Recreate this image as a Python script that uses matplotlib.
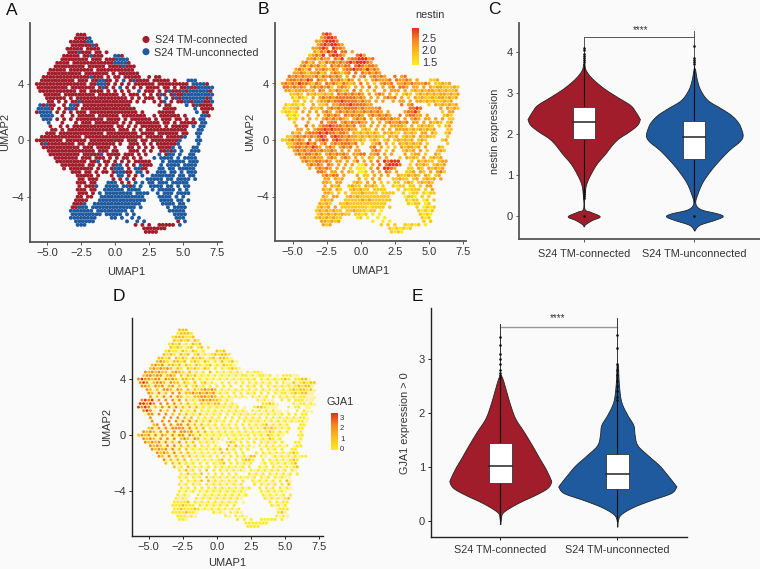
import matplotlib
matplotlib.use("Agg")
import matplotlib.pyplot as plt
import numpy as np
from matplotlib.colors import LinearSegmentedColormap

plt.rcParams['font.family'] = ['Liberation Sans', 'DejaVu Sans']
W, H = 760, 569
BG = '#FAFAFA'
RED = '#A11D2B'
BLUE = '#1F5A9E'
TXT = '#333333'

umap_x_start = -5.75
umap_y_rows = [7.5 - 0.25 * k for k in range(57)]

map_a = [
"............rrr",
"...........rrrrb",
"..........rrrrrbb",
"..........rrrrrrbr",
".........rrrrr.rrrr",
".........rrrbrrr.rr.r",
"........rrrrr.rrbrrr...bbr",
".......rrrrrrrr.rrr.rrrbbbb",
"......rrrr.rrrrrrrrrrrrbbbbr",
".....rrrrrrrrr.rrrrr.rrrrbrrr",
"....rrrrr.rrrrrrr.rrrrrrrrrrr",
"...rrrrrrrrrr.rrrrrrr.r.rrrrrr",
"..rrrrrrrrrrrrrrbrrr.r.rr.rrrrr..r.rr",
".rrrrrrrrrr.rrr.rrbbrr.r.b.rbrrrr.rrrrr.r...bbb",
"rrrrrrrrrrrrrrr.rrbbbr.r.r.r.rrrrrr.rrrrrrrrr.bbbbr",
"rrrrrrrrr.rrrrrrr.rbr.r.b.r.r.r.rrrr.rr.r.rrbrrbbbbb",
".rrrrrrrrrrr.rr.rrrr.r.r.r.r..b.rrr.r.rbrrrbrbbbbbbr",
"..rrrrr.rrrrrrrrr.rrrrrr.r.rrr.r.r.rbr.rbrrbbbbbbbbbb",
"...rrrrrr.r.rrrrrrrrrrrrrrr.r.r.rrr.r.b.rbrbbbbbbbrbb",
"...rr.r.r.rrbrrrrrrrrrrrrrrr.r.r..r.rb.r.rrbbrbbbrrb",
".brbrr..r.bbr.rrrrrrrrrrrrrr........r.rr....b.rbrrrr",
"bbbbr.r.rbbr.rrrrrrrrrrrrrrrr........rrrr.....b.rrrr",
"rbbbb.r.r.r.rrr.rrrrrrrrrrrrrr.r....rrrrr......b.rr",
".bbbb..r..r.rrrrr.rrrrrr.rrrrrrr..r.rrrrrr.r....bbr",
"..bbb.r.r.r.rrrrrrrr.rrrr.r.rrrrrr.r.rrr.rr.r.r.bb",
"...b...r...r.rrr.rrrrrrr.r.r.rrrrrrr.rr.r.rrrrr.bb",
"....r..r.r.rrrrrrrrrrrr.rr.r.r.rrrrrr.r.rrrrr.b.bb",
"....rr.r.rrrrrrrrrrrrrr.rrr.r.r.rrrrrrrrrrrr...bb",
"...rrr.rrrrrrrrrrrrr.rrrrrrrrr.rrrr.rrrrrr.rr..bb",
".rrrrrrrrrrrr.rrrrrrrrrrrrrrrrr.rrrrr.rrrrrb...b",
"rrrrrrrr.rrrrrr.rrrrrrrrrr.rrr.rr.rrrrrrrrb....bb",
".rbrrrrrrrr.rr.rrrrrrrr.r..rrr.r.r.rrrrrrb.....b",
"..rrrrrrrrrrr.rrr.rrrr.r...rr.r.r.r.rrrrb.b...bb",
"...rrrrrrrrrrrrrr.rrr.rr...rrr.r.r..rrbrb.b..bbb",
"....rrrrrrrrr.rrrrrb.rrrr.rrr.r.r...b.rbb.b..bb",
".....rrrrrrr.rrr.rrr.r.r.rr.r.r...b.bbbb.b.bbbb",
"......rrrrrrrrr.rrb.rr.r.r.r.rrrrr...b.bbbbb.bbb",
".......rrrrrrr.rr.r.r.rbb.r.r.brrr..b.bbbb.bbbb",
"........r.rrrrrrr.r.r.rbbb.r.bbrr...bb.bb.bbbbb",
"..........rrr.rr.r.rr.rbbbrr.bb.r..bbb.bb.b.bbb",
"............rrrrr.r...r.bb.r.r.b..bbbbbbb.bb.bb",
"............rr.rrr....r.r.b.r...bbbbb.bb.bbbb.b",
"............rrr.rr...bbb.r.r.b.b.bb.bbb.bbbbb",
"............r.rrrb..bbbb.bbrb.b..bbbb.bb.b.bb",
"............rrr.rr..bbbbbb.bbbb...b.bbbbb.b.b",
"............rrr.r.b.bbbbbbbb.bbbb..b.bbb.bbbb",
"............rr.rr..bbbbbbbbbbbbb....bbbb.b.b",
"...........rrrr...bbbbbbbbbbbbbb....bbbb.bb.b",
"...........rrrb..bbbbbbbbbbbbbb......bbbb.bb",
"..........rrbbb.bbbbbbbbbbbbb.b.......b.bbbb",
"..........bbbbbbb.bbbbbbbbb.b..........bbbbb",
"..........bbbbbbbbb.bbbbb.b.b...........bbbb",
"..........bbbbbbbb....bb.b..b.b..........bbb",
"...........bbbbbb.........b..b.b.........r.b",
"............bbb..............r.r.r..rrrrr.b",
"...............................rrrrrrr",
"................................rrrr",
]

map_b = [
"............454",
"...........34554",
"..........3345554",
"..........34545543",
".........33454.5443",
".........3243545.44.3",
"........23435.45543...453",
".......3342433.435.34455534",
"......3423.3243434345455543",
".....34243423.434344.4543443",
"....34324.3343243.34454435343",
"...3343233423.343234.4.434343",
"..4343433342434343.3.4.34.34343..4.34",
".34434354.433.4343243.3.2.343334.43343.3...223",
"343435443243.434324323.4.3.2.3434.3343433343.22323",
"4434343.3434342.3432.3.3.4.3.3.34.443.33.3.3233222323",
".332333323.43.324323.4.3.2.3..3.333.3.232323323232233",
"..2232.32322323.43434343.3.343.3.2.232.2323232332323",
"...21321.3.34343444444343.3.3.3434.3.2.3232232332323",
"...22.2.2.2334344544443433.3.3..3.33.3.33232322323",
".212212..3.223.334445444433........4.34....2.3232323",
"21223.2.3223.3434344443433334........4454.....3.3232",
"12212.3.3.3.343.34343433434343.3....34453......2.33",
".2121..3..3.34343.434343.3434343..4.34433.3....232",
"..212.3.3.2.34343432.3434.3.3443433.3.343.33.3.3.22",
"...2...3...4.344.34343433.3.3.3433434.33.3.3232.23",
"....3..4.3.34454443434.33.3.3.3.33332.3.23232.2.23",
"....33.3.3445454443433.232.3.3.3.333323232323...22",
"...323.3444545443443.32323232.32322.3232.33.32..23",
".223434343454.4544343323232322.323.2323.32322...2",
"2234343.4.3454.4543433232.232.23.232323.232....23",
".223443534.34.34344434.2..234.3.2.3232323.2.....2",
"..2344343543.343.3434.3...34.3.2.2.323323.3...32",
"...3434344343343.3.3.33...343.2.3..2323.3.2..232",
"....34344343.3434343.3344.334.3.3...3.233.2..32",
".....3433433.343.343.3.2.32.3.3...2.3232.3.2323",
"......343344343.33.3.24.3.3.4.54555...2.32322.233",
".......34343.43.3.3.3.113.3.4.45554..2.3232.2323",
"........3.34343.3.3.2.111.3.4.5543...22.32.32323",
"..........443.33.3.32.112.3.3.43.3..223.32.3.342",
"............34344.3...3.22.3.3.3..3223232.32.23",
"............33.323....3.2.3.3...22322.23.2323.3",
"............332.33...232.3.3.2.2.22.232.23232",
"............3.323..2322.3232.2..2122.22.2.33",
"............323.32..232322.2222...2.21222.2.3",
"............332.2.2.22232222.2222..2.122.2122",
"............32.33..2323222222222....1221.2.2",
"...........2323...22222323222222....2122.12.2",
"...........3232..22322222222222......2122.12",
"..........2323.3.2222222212222.2.......2.1212",
"..........23232322.223222122.1..........21212",
"..........2323232322.2212.1.1...........2121",
"..........23232322....12.1..1.1..........212",
"...........332323.........1..1.1.........2.2",
"............323..............2.2.2..21212.1",
"...............................2121212",
"................................2121",
]

map_d = [
"............222",
"...........12221",
"..........1222112",
"..........21212.21",
".........1212.1.212",
".........2121.12.12.1",
"........1211.21.21.1...212",
".......2121.212.12.1.121221",
"......2212.2121.2121.12.221",
".....2321.2212.121.21.1.2.12",
"....2323.2212.21.21.12.1.211",
"...2323232.21.2121.21.1.1.121",
"..3232322.2321.2.1.1.2.1.1.1.1..1.11",
".233233.232.2.212.1.1.1.1.1.1.11.1.11.1...111",
"3433233.3232.2212.1.1.1.1.1.1.1.1.1.1.1.1.121.1122",
"343.2332.322.21.2.12.1..1.1.1.1.1.1.1.1.1.1..2.12122",
".332.323.23.2.2.12.1.1.1.1.1..1.1.1.1.1.1.1.1.12122",
"..32.2.332.32.2.2123232.1.1.1.1.1.1.1.1.1.1.1212212",
"...32.3.2.3.3.223232323.1.1.1.1.1.1.1.1.1.11.12122",
"...3.2.3.3.32.1.2233232.1.1.1.1..1.1.1.1.1.1.1.11.",
".3434.3.3.3.3.2.1.2323221.1........1.1....1.1.111",
"44343.3.3.3.2.2.1.212122.1.1........1121.....1.11.1",
"4343.2.3.3.3.2.2.2.1.1.1.1.1.1....1221......1.11",
".343..3.2.3.2.1.2.1.1.1.1.1.1.1..1.1.1.1......1.1",
"...33.3.3.2.2.2.1.2.1.1.1.1.1.1.1.1.1.1.1.1.1.1.11",
"...3...3.3.3.2.2.1.1.1.1.1.1.1.1.1.1.1.1.1.1.1.11",
"....3..3.3.3.3.3.2.1.2.1.1.1.1.1.1.1.1.1.1.1.1.11",
"....23.3.3.33.3.2.2.1.1.1.1.1.1.1.1.12.1.1.1...11",
"...23.3.3.3333.3.2.2.1.1.1.1.1.1.1.1.2121.1.1..11",
".3232.3.3.3.3323.2.2.1.1.1.1.1.1.1.1.121.1.1...1",
"2323.3.32.3.33.32.2.1.1.1.1.1.1.1.1.1.21.1.....11",
".3232.3.3.3.232.32.1.2.1..1.1.1.1.1.1.21.1.....1",
"..32323.3.2.3.2.2.1.1.1...121.1.1.1.1.1.1.1...11",
"...3232.3.3.2.2.2.1.1.1...2.2.1.1..1.1.1.1.1..11",
"....32323.3.2.2.1.1.1.1.2.2.1.1.1...1.1.1.1..11",
".....3232.3.2.2.1.1.1.1.2.1.1.1...1.1.1.1.1.121",
"......32.3.2.2.2.1.1.1.1.1.1.1.1.22.1...1.1.1.1.11",
".......3.2.2.2.1.1.1.1.12.1.1.1221..1.1.1.1.121",
"........2.2.2.1.1.1.1.1.12.1.1.1.1...1.1.1.1.12",
"..........2.1.2.1.1.1.1.1.1.1.1.1..1.1.1.1.1.12",
"............1.2.1.1.2.1.1.1.1.1..1.1.1.1.1.1.1",
"............1.2.1.2.1.1.1.1.1...1.1.1.1.1.1.1.1",
"............1.1.1.1.2.1.1.1.1.1.1.1.1.1.1.1.",
"............1.1.1.2.2.1.1.1.1.1..1.1.1.1.1.2",
"............1.1.1.1.1.1.1.1.1.1...1.1.1.1.1.2",
"............1.1.1.1.1.1.1.1.1.1.1..1.1.1.1.1",
"............1.1.1.1.1.1.1.1.1.1.....1.1.1.1",
"...........1.1...1.1.1.1.1.1.1.1....1.1.1.1.1",
"...........1.1...1.1.1.1.1.1.1.......1.1.1.12",
"..........11112.1.1.1.1.1.1.1.........1.1.11",
"..........1112111.1.1.1.1.1.1..........1.1.1",
"..........11211121.1.1.1.1.1.1...........111",
"..........1111211.....1.1..1.1...........12",
"...........111.1.........1..1.1.........1.1",
"............11...............1.1.1..11111.1",
"...............................1111111",
"................................1111",
]

cats = ["S24 TM-connected", "S24 TM-unconnected"]

# violin profiles: (expression, half width)
c_red_y = [3.72,3.56,3.36,3.12,2.91,2.71,2.55,2.39,2.35,2.22,2.06,1.9,1.74,1.53,1.29,1.05,0.8,0.56,0.19,0.11,0,-0.09,-0.19,-0.25]
c_red_w = [.006,.018,.075,.18,.30,.42,.467,.503,.506,.482,.407,.316,.256,.196,.12,.066,.024,.009,.006,.06,.145,.075,.015,0]
c_blue_y = [3.6,3.32,3.08,2.83,2.63,2.47,2.3,2.14,1.96,1.82,1.62,1.37,1.13,.84,.56,.32,.17,.07,0,-.09,-.21,-.35]
c_blue_w = [.006,.024,.054,.12,.24,.331,.392,.422,.437,.407,.316,.226,.15,.075,.03,.009,.06,.21,.256,.18,.045,0]
e_red_y = [2.7,2.61,2.4,2.15,1.9,1.66,1.41,1.16,.98,.79,.72,.61,.49,.36,.24,.15,.06,-.055]
e_red_w = [.006,.023,.051,.085,.128,.2,.27,.336,.385,.427,.433,.399,.3,.171,.071,.017,.006,0]
e_blue_y = [2.89,2.52,2.21,1.97,1.78,1.6,1.41,1.23,1.04,.86,.67,.63,.52,.39,.27,.15,.055,-.1]
e_blue_w = [.006,.014,.034,.085,.137,.148,.171,.256,.356,.427,.496,.501,.456,.285,.142,.043,.009,0]

c_box = [(1.87, 2.29, 2.65), (1.40, 1.92, 2.33)]
e_box = [(0.70, 1.02, 1.45), (0.60, 0.875, 1.24)]
c_out = [[4.1,4.05,3.95,3.9,3.85,3.8,3.75,.65,.6,.55,.5,.45,0],[4.15,3.85,3.8,3.75,3.7,0]]
e_out = [[3.4,3.25,3.1,3.0,2.9,2.8,2.75,2.7,2.65],[3.45,3.2,2.9,2.8,2.7,2.6,2.5,2.4,2.3,2.25]]
c_whisk = [(0.65, 3.72), (0.35, 3.65)]
e_whisk = [(0.0, 2.7), (0.0, 2.9)]

fig = plt.figure(figsize=(W/100, H/100), dpi=100, facecolor=BG)

def mkax(l, r, t, b, lw=1.3, col='#555555'):
    ax = fig.add_axes([l/W, 1-b/H, (r-l)/W, (b-t)/H], facecolor=BG)
    for s in ['top', 'right']:
        ax.spines[s].set_visible(False)
    for s in ['left', 'bottom']:
        ax.spines[s].set_linewidth(lw)
        ax.spines[s].set_color(col)
    ax.tick_params(length=2.2, width=0.7, color=col, labelsize=8.0, labelcolor=TXT, pad=2)
    return ax

def umap_ax(l, r, t, b, x0, x75, y4, ym4, lw, col, xpad):
    ax = mkax(l, r, t, b, lw, col)
    sx = (x75-x0)/12.5
    sy = (ym4-y4)/8.0
    xz = x0 + 5*sx
    yz = (y4+ym4)/2
    ax.set_xlim((l-xz)/sx, (r-xz)/sx)
    ax.set_ylim((yz-b)/sy, (yz-t)/sy)
    ax.set_xticks([-5, -2.5, 0, 2.5, 5, 7.5])
    ax.set_xticklabels(['\u22125.0', '\u22122.5', '0.0', '2.5', '5.0', '7.5'])
    ax.set_yticks([-4, 0, 4])
    ax.set_yticklabels(['\u22124', '0', '4'])
    ax.set_xlabel('UMAP1', fontsize=8.0, color=TXT, labelpad=xpad)
    ax.set_ylabel('UMAP2', fontsize=8.0, color=TXT, labelpad=1)
    return ax

def cells(rows):
    xs, ys, vs = [], [], []
    for k, (row, y) in enumerate(zip(rows, umap_y_rows)):
        for i, ch in enumerate(row[:52]):
            if ch != '.':
                xs.append(umap_x_start + 0.25*i + (0.125 if k % 2 else 0))
                ys.append(y)
                vs.append(ch)
    return np.array(xs), np.array(ys), vs

cm = LinearSegmentedColormap.from_list('ny', ['#FFEB1E', '#FBBF1E', '#F58A1F', '#E8301F'])

# Panel A
axA = umap_ax(30, 222, 23, 241.7, 47, 217.3, 84, 196.7, 1.3, '#555555', 6.5)
x, y, v = cells(map_a)
axA.scatter(x, y, s=8.0, c=[RED if ch == 'r' else BLUE for ch in v], linewidths=0)

def overlay():
    return fig.add_axes([0, 0, 1, 1], facecolor='none', xlim=(0, W), ylim=(H, 0), zorder=10)

# Panel B
axB = umap_ax(274.7, 466, 23, 240.7, 292.7, 463, 83.5, 196.5, 1.3, '#555555', 6.5)
x, y, v = cells(map_b)
axB.scatter(x, y, s=6.5, c=[(int(ch)-1)/4 for ch in v], cmap=cm, vmin=0, vmax=1, linewidths=0)

# Panel D
axD = umap_ax(131.7, 322.7, 318, 535.7, 148.7, 319.3, 379, 491.3, 1.0, '#222222', 5)
x, y, v = cells(map_a)
axD.scatter(x, y, s=6.5, color='#FFF2A0', linewidths=0)
x, y, v = cells(map_d)
axD.scatter(x, y, s=4.0, c=[(int(ch)-1)/3 for ch in v], cmap=cm, vmin=0, vmax=1, linewidths=0)

# Violins
def rounded(ys, ws):
    p = np.column_stack([ys, ws])
    p = np.vstack([p[0], p, p[-1]])
    out = []
    for i in range(1, len(p)-2):
        for t in np.linspace(0, 1, 8, endpoint=False):
            out.append(0.5*((2*p[i]) + (p[i+1]-p[i-1])*t + (2*p[i-1]-5*p[i]+4*p[i+1]-p[i+2])*t*t + (3*p[i]-p[i-1]-3*p[i+1]+p[i+2])*t**3))
    out.append(p[-2])
    out = np.array(out)
    return out[:, 0], np.clip(out[:, 1], 0, None)

def violin(ax, pos, ys, ws, color):
    ys, ws = rounded(ys, ws)
    ax.fill_betweenx(ys, pos-ws, pos+ws, facecolor=color, edgecolor='#222222', linewidth=0.6, zorder=2)

def decorate(ax, boxes, whisk, outs, hw, pad):
    for p, (q1, m, q3), (lo, hi), o in zip([1, 2], boxes, whisk, outs):
        ax.plot([p, p], [lo, hi], color='#111111', lw=0.8, zorder=3)
        ax.fill_between([p-hw, p+hw], q1, q3, facecolor='white', edgecolor='#444444', linewidth=0.7, zorder=4)
        ax.plot([p-hw, p+hw], [m, m], color='#222222', lw=1.1, zorder=5)
        ax.scatter([p]*len(o), o, s=3.5, color='#111111', linewidths=0, zorder=5)
    ax.set_xticks([1, 2])
    ax.set_xticklabels(cats, fontsize=7.8)
    ax.tick_params(axis='x', pad=pad)

axC = mkax(519, 760, 22.7, 239.3)
axC.set_xlim(1+(519-583.7)/110.6, 1+(760-583.7)/110.6)
axC.set_ylim((216.3-239.3)/41.08, (216.3-22.7)/41.08)
axC.set_yticks([0, 1, 2, 3, 4])
axC.set_ylabel('nestin expression', fontsize=7.8, color=TXT, labelpad=5)
violin(axC, 1, c_red_y, c_red_w, RED)
violin(axC, 2, c_blue_y, c_blue_w, BLUE)
decorate(axC, c_box, c_whisk, c_out, 0.1, 4.5)
axC.plot([1, 2], [4.36, 4.36], color='#555555', lw=0.7, zorder=3)
axC.plot([1, 1], [3.75, 4.36], color='#555555', lw=0.7, zorder=3)
axC.plot([2, 2], [3.7, 4.5], color='#555555', lw=0.7, zorder=3)
axC.text(1.51, 4.42, '****', ha='center', va='bottom', fontsize=7, color=TXT)

axE = mkax(430.7, 687.3, 308.3, 537.3, 1.0, '#222222')
axE.set_xlim(1+(430.7-500.3)/117, 1+(687.3-500.3)/117)
axE.set_ylim((521.3-537.3)/54.1, (521.3-308.3)/54.1)
axE.set_yticks([0, 1, 2, 3])
axE.set_ylabel('GJA1 expression > 0', fontsize=7.8, color=TXT, labelpad=6)
violin(axE, 1, e_red_y, e_red_w, RED)
violin(axE, 2, e_blue_y, e_blue_w, BLUE)
decorate(axE, e_box, e_whisk, e_out, 0.1, 3)
axE.plot([1, 2], [3.6, 3.6], color='#999999', lw=1.0, zorder=3)
axE.plot([1, 1], [2.7, 3.65], color='#333333', lw=0.7, zorder=3)
axE.plot([2, 2], [2.9, 3.76], color='#333333', lw=0.7, zorder=3)
axE.text(1.49, 3.66, '****', ha='center', va='bottom', fontsize=7, color=TXT)

# Overlays: panel letters, legend, colour bars
ov = overlay()
ov.axis('off')
for lab, px, py in [('A', 12, 10), ('B', 263, 9), ('C', 494, 9), ('D', 119, 296), ('E', 417, 296)]:
    ov.text(px, py, lab, fontsize=12.5, ha='center', va='center', color='#111111')
ov.scatter([146, 146], [39.5, 51.7], s=26, c=[RED, BLUE], linewidths=0)
ov.text(155, 40, cats[0], fontsize=7.8, va='center', color=TXT)
ov.text(154, 52.5, cats[1], fontsize=7.8, va='center', color=TXT)

grad = np.linspace(0, 1, 64)[:, None]
ov.imshow(grad, extent=(412, 419, 65, 28), cmap=cm, vmin=0, vmax=1, aspect='auto', origin='lower')
ov.text(430, 15, 'nestin', fontsize=7.8, ha='center', va='center', color=TXT)
for t, py in [('2.5', 39), ('2.0', 51), ('1.5', 63)]:
    ov.text(422, py, t, fontsize=7.8, va='center', color=TXT)

ov.imshow(grad, extent=(330.7, 337.3, 450, 413), cmap=cm, vmin=0, vmax=1, aspect='auto', origin='lower')
ov.text(340, 402, 'GJA1', fontsize=7.8, ha='center', va='center', color=TXT)
for t, py in [('3', 418), ('2', 428.5), ('1', 439), ('0', 449)]:
    ov.text(340, py, t, fontsize=5.6, va='center', color=TXT)
ov.set_xlim(0, W)
ov.set_ylim(H, 0)

fig.savefig('out.png', dpi=100, facecolor=BG)
